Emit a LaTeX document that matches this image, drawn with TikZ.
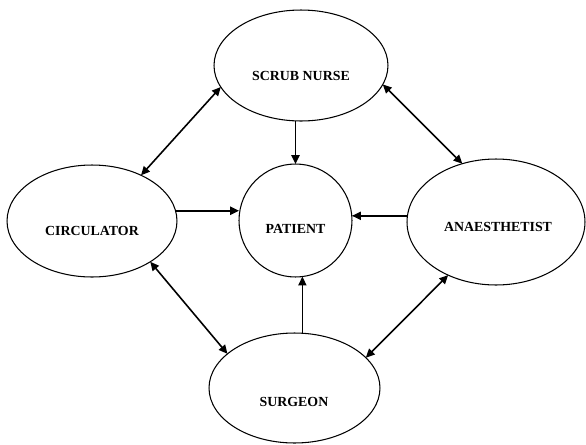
\documentclass[tikz,border=0pt]{standalone}
\usepackage{fontspec}
\setmainfont{Liberation Serif}
\usetikzlibrary{shapes.geometric,arrows.meta}
\tikzset{
  ell/.style={draw, ellipse, line width=0.6pt, inner sep=0pt, outer sep=0pt},
  circ/.style={draw, circle, line width=0.6pt, inner sep=0pt, outer sep=0pt},
  lab/.style={font=\fontsize{7.9}{9}\selectfont\bfseries, inner sep=0pt},
  arr/.style={line width=0.9pt, -{Triangle[length=5pt,width=4.6pt]}},
  darr/.style={line width=0.9pt, {Triangle[length=5pt,width=4.6pt]}-{Triangle[length=5pt,width=4.6pt]}}
}
\begin{document}
\begin{tikzpicture}[x=0.02cm,y=-0.02cm]
\useasboundingbox (0,0) rectangle (586,444);
% shapes
\node[ell, minimum width=3.48cm, minimum height=2.22cm] (SN) at (301,65.5) {};
\node[ell, minimum width=3.40cm, minimum height=2.24cm] (CI) at (92,221) {};
\node[circ, minimum size=2.26cm] (PA) at (295.5,220.5) {};
\node[ell, minimum width=3.56cm, minimum height=2.52cm] (AN) at (496,222) {};
\node[ell, minimum width=3.42cm, minimum height=2.20cm] (SU) at (294.5,388) {};
% labels
\node[lab] (SNt) at (301,76) {SCRUB NURSE};
\node[lab] (CIt) at (92,231) {CIRCULATOR};
\node[lab] (PAt) at (295.5,229) {PATIENT};
\node[lab] (ANt) at (498,227) {ANAESTHETIST};
\node[lab] (SUt) at (294,402) {SURGEON};
% double arrows
\draw[darr] (SN.195.5) -- (CI.43.3);
\draw[darr] (SN.-13) -- (AN.120.3);
\draw[darr] (CI.-35) -- (SU.153.3);
\draw[darr] (AN.228.2) -- (SU.23.7);
% single arrows to patient
\draw[arr] (SN.south -| PA.north) -- (PA.north);
\draw[arr] (CI.7) -- (CI.7 -| PA.west);
\draw[arr] (AN.176) -- (AN.176 -| PA.east);
\draw[arr] (SU.north -| PA.-83) -- (PA.-83);
\end{tikzpicture}
\end{document}
